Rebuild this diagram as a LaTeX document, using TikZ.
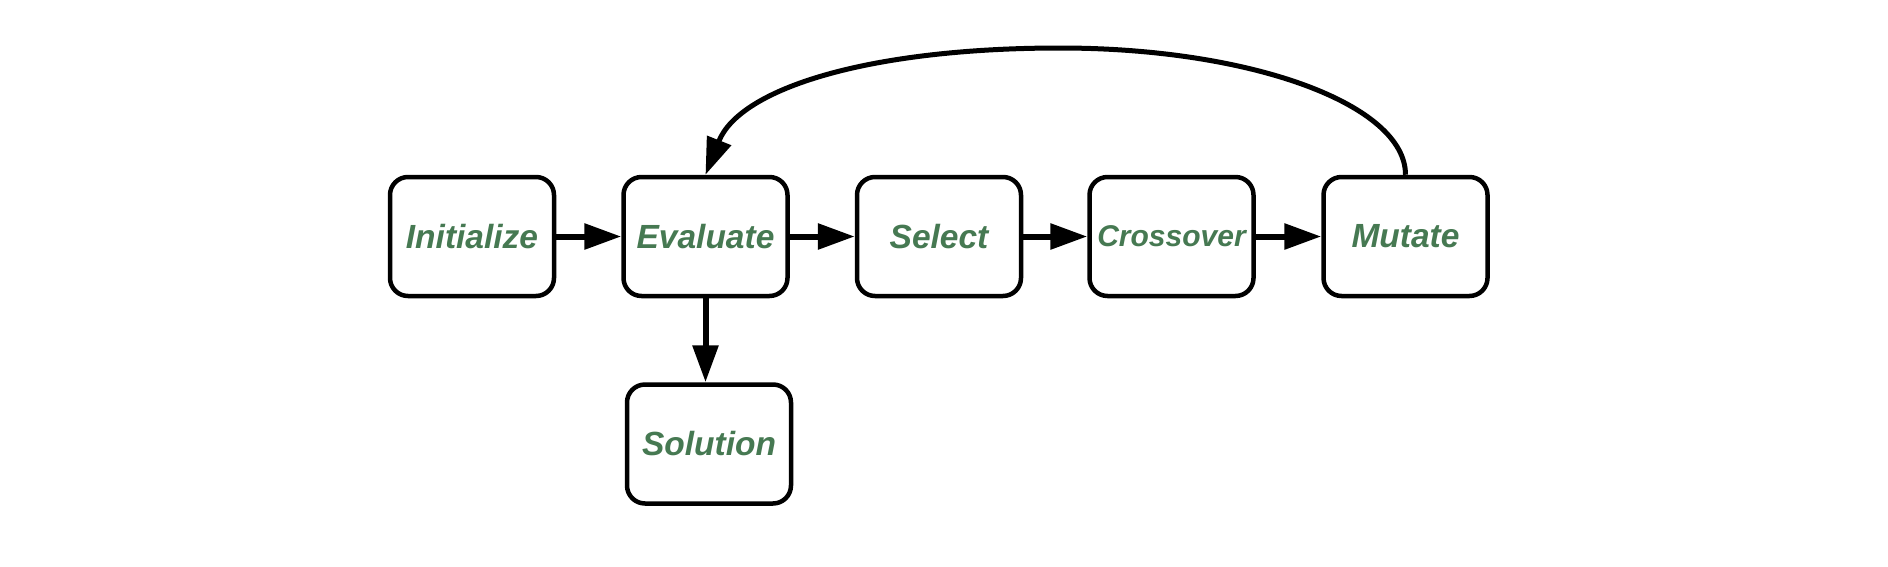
\documentclass[tikz,border=0pt]{standalone}
\usepackage{fontspec}
\setmainfont{Liberation Sans}
\usetikzlibrary{arrows.meta}
\definecolor{txtgreen}{RGB}{70,121,82}
\tikzset{
  stepbox/.style={draw=black, line width=4.5pt, rounded corners=18pt, fill=white,
    minimum width=164pt, minimum height=119pt, inner sep=0pt,
    text=txtgreen, font=\fontsize{33.5pt}{36pt}\selectfont\bfseries\itshape},
  conn/.style={line width=6pt, -{Triangle[length=37pt,width=25pt]}},
  loopconn/.style={line width=5pt, -{Triangle[length=37pt,width=25pt]}}
}
\begin{document}
\begin{tikzpicture}[x=1pt,y=-1pt]
\useasboundingbox (0,0) rectangle (1888,566);
\node[stepbox] (init) at (472,236.5) {Initialize};
\node[stepbox] (eval) at (705.5,236.5) {Evaluate};
\node[stepbox] (sel) at (939,236.5) {Select};
\node[stepbox, font=\fontsize{30pt}{32pt}\selectfont\bfseries\itshape] (cross) at (1171.5,236.5) {Crossover};
\node[stepbox] (mut) at (1405.5,236.5) {Mutate};
\node[stepbox] (sol) at (709,444) {Solution};
\coordinate (apex) at (1060,48);
\draw[conn] (init) -- (eval);
\draw[conn] (eval) -- (sel);
\draw[conn] (sel) -- (cross);
\draw[conn] (cross) -- (mut);
\draw[conn] (eval.south) -- (eval.south |- sol.north);
\draw[loopconn] (mut.north) .. controls +(0,-70) and (1252,48) .. (apex)
  .. controls (870,48) and (740,88) .. (eval.north);
\end{tikzpicture}
\end{document}
